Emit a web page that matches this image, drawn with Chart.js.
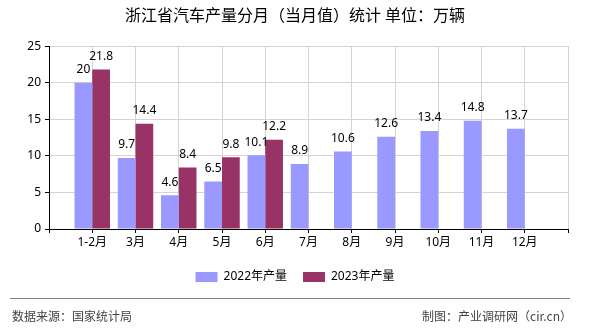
<!DOCTYPE html>
<html>
<head>
<meta charset="utf-8">
<script src="https://cdn.jsdelivr.net/npm/chart.js@4/dist/chart.umd.min.js"></script>
<style>
    body { margin: 0; background: #ffffff; }
    #wrap { position: relative; width: 590px; height: 330px; overflow: hidden; }
    #footLine { position: absolute; left: 10px; top: 298px; width: 560px; height: 1px; background: #808080; }
    .foot { position: absolute; top: 308px; font: 12px 'Noto Sans CJK SC', sans-serif; line-height: 16px; color: #444444; white-space: nowrap; }
    #source { left: 12px; }
    #maker { right: 18px; }
</style>
</head>
<body>
<div id="wrap">
    <canvas id="barChart" width="590" height="330"></canvas>
    <div id="footLine"></div>
    <div class="foot" id="source">数据来源：国家统计局</div>
    <div class="foot" id="maker">制图：产业调研网（cir.cn）</div>
</div>
<script>
// Chart values
const months = ['1-2月', '3月', '4月', '5月', '6月', '7月', '8月', '9月', '10月', '11月', '12月'];
const output2022 = [20, 9.7, 4.6, 6.5, 10.1, 8.9, 10.6, 12.6, 13.4, 14.8, 13.7];
const output2023 = [21.8, 14.4, 8.4, 9.8, 12.2, null, null, null, null, null, null];
const seriesNames = ['2022年产量', '2023年产量'];
const yMin = 0, yMax = 25, yStep = 5;

// Month labels sit on the ticks, with an empty slot at both ends of the axis
const labels = [''].concat(months, ['']);
const pad = arr => [null].concat(arr, [null]);

const fontFamily = "'Noto Sans', 'Noto Sans CJK SC', sans-serif";

// Draws the value above each bar
const valueLabels = {
    id: 'valueLabels',
    afterDatasetsDraw(chart) {
        const ctx = chart.ctx;
        ctx.save();
        ctx.font = '12px ' + fontFamily;
        ctx.fillStyle = '#000000';
        ctx.textAlign = 'center';
        ctx.textBaseline = 'middle';
        chart.data.datasets.forEach((ds, i) => {
            chart.getDatasetMeta(i).data.forEach((bar, j) => {
                const v = ds.data[j];
                if (v === null || v === undefined) return;
                ctx.fillText(String(v), bar.x, bar.y - 13);
            });
        });
        ctx.restore();
    }
};

const ctx = document.getElementById('barChart').getContext('2d');

new Chart(ctx, {
    type: 'bar',
    data: {
        labels: labels,
        datasets: [
            {
                label: seriesNames[0],
                data: pad(output2022),
                backgroundColor: '#9999ff',
                borderWidth: 0
            },
            {
                label: seriesNames[1],
                data: pad(output2023),
                backgroundColor: '#993366',
                borderWidth: 0
            }
        ]
    },
    options: {
        responsive: false,
        animation: false,
        categoryPercentage: 0.82,
        barPercentage: 1,
        layout: {
            padding: { left: 0, right: 0, top: 0, bottom: 37 }
        },
        font: { family: fontFamily },
        plugins: {
            title: {
                display: true,
                text: '浙江省汽车产量分月（当月值）统计 单位：万辆',
                color: '#000000',
                font: { family: fontFamily, size: 16, weight: 'normal' },
                padding: { top: 7, bottom: 20 }
            },
            legend: {
                position: 'bottom',
                labels: {
                    boxWidth: 22,
                    boxHeight: 10,
                    padding: 16,
                    color: '#000000',
                    font: { family: fontFamily, size: 12 }
                }
            },
            tooltip: { enabled: false }
        },
        scales: {
            x: {
                offset: false,
                grid: {
                    offset: false,
                    color: '#d4d4d4',
                    tickColor: '#000000',
                    tickLength: 4
                },
                border: { color: '#000000', width: 1 },
                ticks: {
                    autoSkip: false,
                    maxRotation: 0,
                    padding: 2,
                    color: '#000000',
                    font: { family: fontFamily, size: 12 }
                },
                afterFit: s => { s.height = 26; }
            },
            y: {
                min: yMin,
                max: yMax,
                grid: {
                    color: '#d4d4d4',
                    tickColor: '#000000',
                    tickLength: 4
                },
                border: { color: '#000000', width: 1 },
                ticks: {
                    stepSize: yStep,
                    padding: 4,
                    color: '#000000',
                    font: { family: fontFamily, size: 12 }
                },
                afterFit: s => { s.width = 49; }
            },
            // empty right-hand axis that only keeps the plot's right margin
            yRight: {
                position: 'right',
                grid: { display: false },
                border: { display: false },
                ticks: { display: false },
                afterFit: s => { s.width = 22; }
            }
        }
    },
    plugins: [valueLabels]
});
</script>
</body>
</html>
